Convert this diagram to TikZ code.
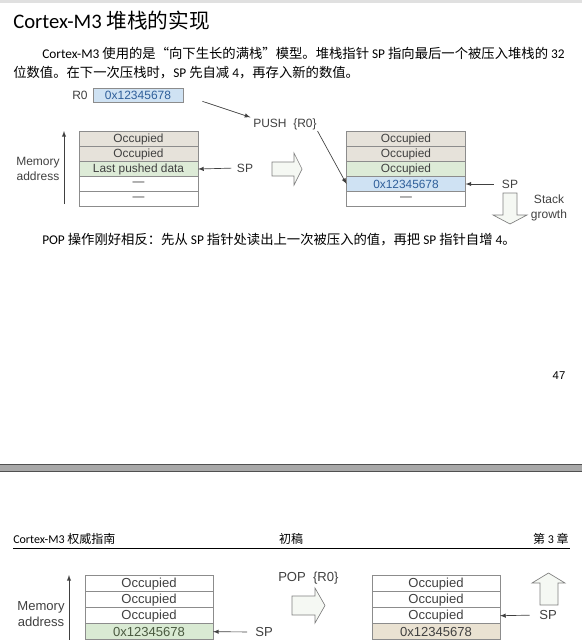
\documentclass[tikz,border=0pt]{standalone}
\usepackage{fontspec}
\setmainfont{Carlito}
\newfontfamily\cjk{Noto Sans CJK SC}
\newfontfamily\arial{Liberation Sans}
\usepackage{tikz}
\usetikzlibrary{positioning}

\definecolor{occfill}{HTML}{E6E2DA}
\definecolor{grnfill}{HTML}{DDEBD7}
\definecolor{bluefill}{HTML}{CFE2F3}
\definecolor{bluetext}{HTML}{2F5F9A}
\definecolor{celltext}{HTML}{404040}
\definecolor{cellline}{HTML}{8C8C8C}
\definecolor{connline}{HTML}{404040}
\definecolor{arrfill}{HTML}{F5F8F3}
\definecolor{arrline}{HTML}{7F7F7F}
\definecolor{popgrn}{HTML}{D9EAD3}
\definecolor{popgrntext}{HTML}{4A5A40}
\definecolor{popocc}{HTML}{EAE2D2}
\definecolor{sepgray}{HTML}{A8A8A8}
\definecolor{sepdark}{HTML}{505050}

\begin{document}
\begin{tikzpicture}[x=0.75pt,y=-0.75pt,
  cell/.style={draw=cellline, line width=0.6pt, minimum width=89.25pt,
    minimum height=11.25pt, inner sep=0pt, outer sep=0pt, text=celltext,
    font=\arial\fontsize{8.9}{10}\selectfont},
  bigcell/.style={cell, minimum width=96pt, minimum height=12pt,
    font=\arial\fontsize{9.8}{11}\selectfont},
  occ/.style={fill=occfill},
  pushed/.style={fill=grnfill},
  newval/.style={fill=bluefill, text=bluetext},
  lbl/.style={inner sep=0pt, text=celltext, font=\arial\fontsize{9}{11}\selectfont},
  biglbl/.style={lbl, font=\arial\fontsize{9.8}{12}\selectfont},
  conn/.style={draw=connline, line width=0.5pt, -latex},
  hollow/.style={draw=arrline, fill=arrfill, line width=0.5pt},
  body/.style={inner sep=0pt, anchor=west, font=\fontsize{10}{12}\selectfont},
  head/.style={inner sep=0pt, font=\fontsize{9}{11}\selectfont}]
\useasboundingbox (0,0) rectangle (582,640);
\clip (0,0) rectangle (582,640);
\fill[black!12] (0,0) rectangle (582,2.5);

% Title and text
\node[inner sep=0pt, anchor=west, font=\fontsize{15.5}{18}\selectfont]
  (title) at (13,21) {Cortex-M3 {\cjk 堆栈的实现}};
\node[body] (line1) at (42,53)
  {Cortex-M3 {\cjk 使用的是“向下生长的满栈”模型。堆栈指针} SP {\cjk 指向最后一个被压入堆栈的} 32};
\node[body] (line2) at (13,73)
  {{\cjk 位数值。在下一次压栈时，}SP {\cjk 先自减} 4{\cjk ，再存入新的数值。}};

% R0 register
\node[lbl] (r0) at (80,95) {R0};
\node[draw=cellline, fill=bluefill, text=bluetext, line width=0.6pt,
  minimum width=67.5pt, minimum height=10.5pt, inner sep=0pt,
  font=\arial\fontsize{9}{10}\selectfont] (r0v) at (138,95) {0x12345678};
\node[lbl, anchor=west] (push) at (253,124) {PUSH\ \ \{R0\}};

% Stack before push
\node[cell, occ] (la) at (138.5,139) {Occupied};
\node[cell, occ, below=0pt of la] (lb) {Occupied};
\node[cell, pushed, below=0pt of lb] (lc) {Last pushed data};
\node[cell, below=0pt of lc] (ld) {—};
\node[cell, below=0pt of ld] (le) {—};
\node[lbl, align=center] (mem) at (38,169) {Memory\\address};
\coordinate (mtop) at (64,131);
\coordinate (mbot) at (64,204);
\draw[conn] (mbot) -- (mtop);
\node[lbl] (sp1) at (245,168) {SP};
\draw[conn, shorten <=4pt] (sp1.west) -- (lc.east);

% Push arrow
\draw[hollow] (272,162) -- (294,162) -- (294,153) -- (302,169)
  -- (294,185) -- (294,176) -- (272,176) -- cycle;

% Stack after push
\node[cell, occ] (ra) at (406,139) {Occupied};
\node[cell, occ, below=0pt of ra] (rb) {Occupied};
\node[cell, pushed, below=0pt of rb] (rc) {Occupied};
\node[cell, newval, below=0pt of rc] (rd) {0x12345678};
\node[cell, below=0pt of rd] (re) {—};
\node[lbl] (sp2) at (510,184) {SP};
\draw[conn, shorten <=6pt] (sp2.west) -- (rd.east);
\draw[conn, shorten <=15pt, shorten >=2pt] (r0v.east) -- (push.north west);
\draw[conn, shorten <=1pt] (push.south east) -- (rd.west);

% Stack growth
\draw[hollow] (503,193) -- (517,193) -- (517,215) -- (527,215) -- (510,224)
  -- (493,215) -- (503,215) -- cycle;
\node[lbl, align=center] (grow) at (549,208) {Stack\\growth};

\node[body] (popline) at (42,240)
  {POP {\cjk 操作刚好相反：先从} SP {\cjk 指针处读出上一次被压入的值，再把} SP {\cjk 指针自增} 4{\cjk 。}};
\node[inner sep=0pt, font=\arial\fontsize{8.5}{10}\selectfont] (pgno) at (559,376) {47};

% Page break
\fill[sepgray] (0,464) rectangle (582,472);
\draw[sepdark, line width=0.8pt] (0,464.5) -- (582,464.5) (0,471.5) -- (582,471.5);

% Header of next page
\node[head, anchor=west] (hl) at (13,539) {Cortex-M3 {\cjk 权威指南}};
\node[head] (hc) at (291,539) {\cjk 初稿};
\node[head, anchor=east] (hr) at (569,539) {{\cjk 第} 3 {\cjk 章}};
\draw[line width=0.6pt] (13,548) -- (570,548);

% Stack before pop
\node[bigcell] (pa) at (149,583.7) {Occupied};
\node[bigcell, below=0pt of pa] (pb) {Occupied};
\node[bigcell, below=0pt of pb] (pc) {Occupied};
\node[bigcell, fill=popgrn, text=popgrntext, below=0pt of pc] (pd) {0x12345678};
\node[biglbl, align=center] (mem2) at (41,614) {Memory\\address};
\coordinate (ptop) at (69,575);
\coordinate (pbot) at (69,645);
\draw[conn] (pbot) -- (ptop);
\node[biglbl] (sp3) at (264,632) {SP};
\draw[conn, shorten <=6pt] (sp3.west) -- (pd.east);

% Pop arrow
\node[biglbl, anchor=west] (pop) at (278,578) {POP\ \ \{R0\}};
\draw[hollow] (292,596) -- (315,596) -- (315,588) -- (325,605.5)
  -- (315,623) -- (315,615) -- (292,615) -- cycle;

% Stack after pop
\node[bigcell] (qa) at (436,583.7) {Occupied};
\node[bigcell, below=0pt of qa] (qb) {Occupied};
\node[bigcell, below=0pt of qb] (qc) {Occupied};
\node[bigcell, fill=popocc, below=0pt of qc] (qd) {0x12345678};
\node[biglbl] (sp4) at (548,615) {SP};
\draw[conn, shorten <=7pt] (sp4.west) -- (qc.east);
\draw[hollow] (540,605) -- (540,583) -- (532,583) -- (548.5,573)
  -- (565,583) -- (558,583) -- (558,605) -- cycle;
\end{tikzpicture}
\end{document}
